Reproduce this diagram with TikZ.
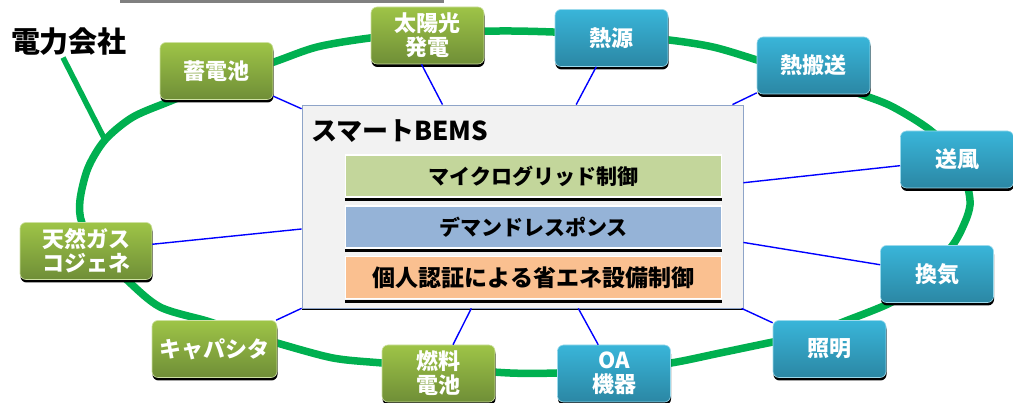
\documentclass[tikz,border=0pt]{standalone}
\usepackage{fontspec}
\setmainfont{Noto Sans CJK JP}
\usetikzlibrary{shadows}
\definecolor{ringgreen}{HTML}{00B050}
\definecolor{grntop}{HTML}{9EC447}
\definecolor{grnbot}{HTML}{6F8E37}
\definecolor{blutop}{HTML}{39B5D9}
\definecolor{blubot}{HTML}{2B87A4}
\definecolor{mgfill}{HTML}{C3D69B}
\definecolor{drfill}{HTML}{95B3D7}
\definecolor{pafill}{HTML}{FAC090}
\definecolor{bemsfill}{HTML}{F2F2F2}
\definecolor{bemsline}{HTML}{8EA4C8}
\begin{document}
\begin{tikzpicture}[x=1pt, y=-1pt,
  unit/.style={rounded corners=6pt, minimum width=113pt, minimum height=57pt, inner sep=2pt,
    align=center, text=white, font=\bfseries\fontsize{22}{24}\selectfont, line width=0.6pt,
    drop shadow={shadow xshift=0.5pt, shadow yshift=-3pt, fill=black, opacity=1}},
  gen/.style={unit, top color=grntop, bottom color=grnbot, draw=grntop!50!white},
  dem/.style={unit, top color=blutop, bottom color=blubot, draw=blutop!50!white},
  layer/.style={minimum width=376pt, minimum height=42pt, inner sep=0pt, draw=white, line width=1.5pt,
    font=\bfseries\fontsize{21}{24}\selectfont},
  underline/.style={black, line width=3pt},
  link/.style={blue, line width=1.4pt},
  ring/.style={ringgreen, line width=7.5pt},
  feed/.style={ringgreen, line width=5.5pt}]
  \useasboundingbox (0,0) rectangle (1013,403);
  \fill[black!50] (120,0) rectangle (444,3.5);
  \draw[ring] plot[smooth cycle] coordinates {
    (100,252) (82,223) (80,200) (88,168) (105,140) (133,117) (173,100) (220,80)
    (274,62) (317,47) (370,38) (427,33) (500,31) (553,32) (611,35) (669,40)
    (713,47) (757,60) (813,78) (863,95) (893,107) (930,130) (960,160) (968,188)
    (970,205) (965,222) (952,246) (920,280) (892,302) (843,322) (810,335) (773,342)
    (720,353) (671,363) (613,370) (557,373) (510,373) (440,368) (382,363) (333,358)
    (277,343) (240,332) (207,321) (160,307) (127,280)};
  \node[font=\bfseries\fontsize{29}{32}\selectfont, inner sep=2pt] (util) at (69,41.5) {電力会社};
  \coordinate (tap) at (105,140);
  \draw[feed] ([xshift=-6pt]util.south) -- (tap);
  \node[gen] (bat) at (216.5,71) {蓄電池};
  \node[gen] (sol) at (427.5,35.5) {太陽光\\発電};
  \node[dem] (heat) at (611.5,38) {熱源};
  \node[dem] (carry) at (813.5,65.5) {熱搬送};
  \node[dem] (fan) at (957,159.5) {送風};
  \node[dem] (vent) at (937,274) {換気};
  \node[dem] (lamp) at (829.5,349) {照明};
  \node[dem] (oa) at (614,373.5) {OA\\機器};
  \node[gen] (fc) at (438.5,373.5) {燃料\\電池};
  \node[gen, minimum width=125pt] (cap) at (214.5,349) {キャパシタ};
  \node[gen, minimum width=132pt] (cogen) at (86,251) {天然ガス\\コジェネ};
  \node[draw=bemsline, fill=bemsfill, line width=0.8pt, minimum width=441pt, minimum height=203pt,
    drop shadow={shadow xshift=0pt, shadow yshift=-2pt, fill=black, opacity=1}] (bems) at (522.5,206.5) {};
  \node[anchor=west, font=\bfseries\fontsize{26}{28}\selectfont, inner sep=0pt] (title) at (311,131) {スマートBEMS};
  \node[layer, fill=mgfill] (mg) at (533.5,176) {マイクログリッド制御};
  \node[layer, fill=drfill] (dr) at (533.5,227) {デマンドレスポンス};
  \node[layer, fill=pafill, font=\bfseries\fontsize{23}{26}\selectfont] (pa) at (533.5,277.5) {個人認証による省エネ設備制御};
  \draw[underline] ([yshift=-2pt]mg.south west) -- ([yshift=-2pt]mg.south east);
  \draw[underline] ([yshift=-2pt]dr.south west) -- ([yshift=-2pt]dr.south east);
  \draw[underline] ([yshift=-2pt]pa.south west) -- ([yshift=-2pt]pa.south east);
  \draw[link] (bat) -- (bems);
  \draw[link] ([xshift=-6pt]sol.south) -- ([xshift=-80pt]bems.north);
  \draw[link] (heat) -- (bems);
  \draw[link] (carry) -- (bems);
  \draw[link] (fan) -- (bems);
  \draw[link] (vent) -- (bems);
  \draw[link] (lamp) -- (bems);
  \draw[link] (oa) -- (bems);
  \draw[link] (fc) -- (bems);
  \draw[link] (cap) -- (bems);
  \draw[link] (cogen) -- (bems);
\end{tikzpicture}
\end{document}
